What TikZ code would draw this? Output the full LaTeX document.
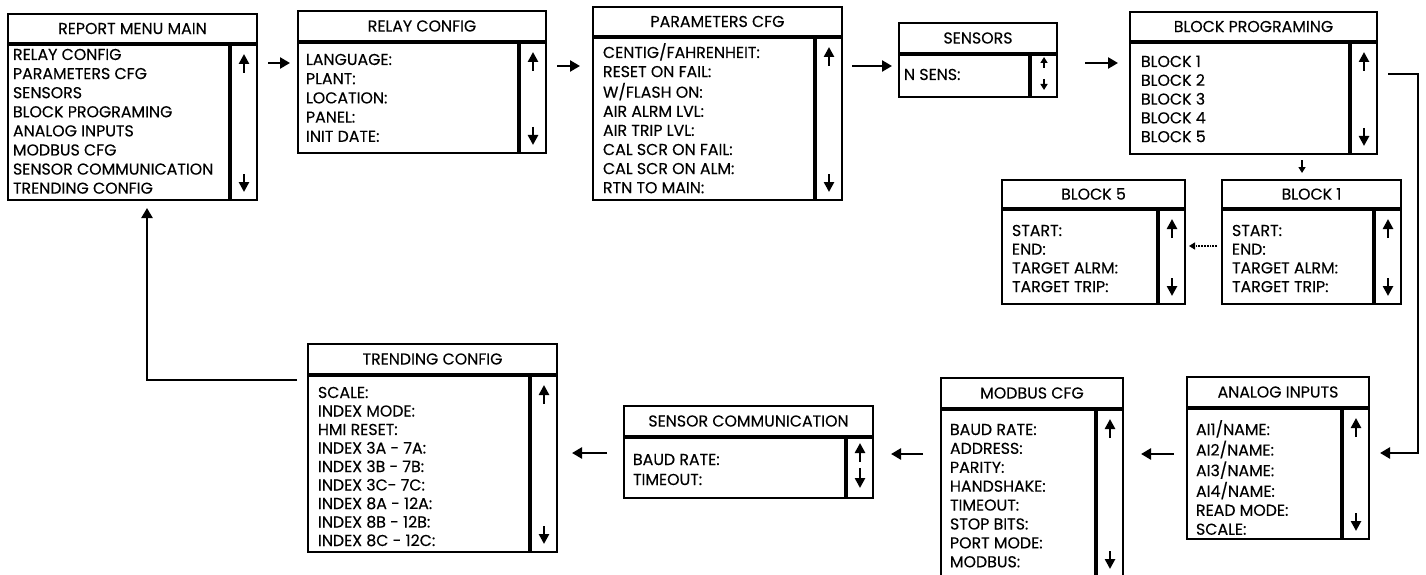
\documentclass[tikz,border=0pt]{standalone}
\usepackage{fontspec}
\setmainfont{Poppins}[FakeBold=0.25]
\usetikzlibrary{arrows.meta}

\tikzset{
  box/.style={draw, line width=2.8pt, inner sep=0pt, outer sep=0pt, anchor=north west},
  items/.style={inner sep=0pt, outer sep=0pt, anchor=base west},
  flow/.style={line width=2.6pt, -{Triangle[width=11pt,length=10pt]}},
  scrollarrow/.style={line width=2.8pt, -{Triangle[width=10pt,length=10pt]}},
  tinyarrow/.style={line width=1.8pt, -{Triangle[width=7pt,length=6pt]}},
  dotflow/.style={line width=1.8pt, densely dotted, -{Triangle[width=7pt,length=6pt]}}
}

\begin{document}
\begin{tikzpicture}[x=1pt,y=-1pt,font=\fontsize{15.8}{19}\selectfont]
\useasboundingbox (0,0) rectangle (1426,575);
\clip (0,0) rectangle (1426,575);
% menu screens: name/left/right/top/title bottom/bottom/text x/first baseline/line step/title/lines
\foreach \n/\xa/\xb/\ya/\ym/\yb/\tx/\ty/\ls/\ttl/\items in {main/8/257/14/43/200/13/60/19.1/{REPORT MENU MAIN}/{RELAY CONFIG\\PARAMETERS CFG\\SENSORS\\BLOCK PROGRAMING\\ANALOG INPUTS\\MODBUS CFG\\SENSOR COMMUNICATION\\TRENDING CONFIG},
relay/298/546/11/41/153/306/65/19.2/{RELAY CONFIG}/{LANGUAGE:\\PLANT:\\LOCATION:\\PANEL:\\INIT DATE:},
params/593/842/7/36/200/603/58/19.1/{PARAMETERS CFG}/{CENTIG/FAHRENHEIT:\\RESET ON FAIL:\\W/FLASH ON:\\AIR ALRM LVL:\\AIR TRIP LVL:\\CAL SCR ON FAIL:\\CAL SCR ON ALM:\\RTN TO MAIN:},
sensors/899/1057/23/53/97/904/80/19/{SENSORS}/{N SENS:},
blockprog/1130/1377/12/41/154/1141/67/18.8/{BLOCK PROGRAMING}/{BLOCK 1\\BLOCK 2\\BLOCK 3\\BLOCK 4\\BLOCK 5},
blockfive/1002/1185/180/208/304/1012/236/18.7/{BLOCK 5}/{START:\\END:\\TARGET ALRM:\\TARGET TRIP:},
blockone/1222/1401/180/208/304/1232/236/18.7/{BLOCK 1}/{START:\\END:\\TARGET ALRM:\\TARGET TRIP:},
analog/1187/1369/377/407/539/1196/435/19/{ANALOG INPUTS}/{AI1/NAME:\\AI2/NAME:\\AI3/NAME:\\AI4/NAME:\\READ MODE:\\SCALE:},
modbus/941/1123/378/408/577/950/435/18.9/{MODBUS CFG}/{BAUD RATE:\\ADDRESS:\\PARITY:\\HANDSHAKE:\\TIMEOUT:\\STOP BITS:\\PORT MODE:\\MODBUS:},
senscomm/624/873/406/436/498/633/465/20/{SENSOR COMMUNICATION}/{BAUD RATE:\\TIMEOUT:},
trending/308/557/344/374/552/318/398/18.5/{TRENDING CONFIG}/{SCALE:\\INDEX MODE:\\HMI RESET:\\INDEX 3A - 7A:\\INDEX 3B - 7B:\\INDEX 3C- 7C:\\INDEX 8A - 12A:\\INDEX 8B - 12B:\\INDEX 8C - 12C:}}{
\node[box, minimum width={(\xb-\xa)*1pt}, minimum height={(\ym-\ya)*1pt}] (\n-t) at (\xa,\ya) {\ttl};
\node[box, minimum width={(\xb-\xa-28)*1pt}, minimum height={(\yb-\ym-2)*1pt}] (\n-b) at (\xa,\ym+2) {};
\node[box, anchor=north east, minimum width=26pt, minimum height={(\yb-\ym-2)*1pt}] (\n-s) at (\xb,\ym+2) {};
\node[items] (\n-l) at (\tx,\ty) {\fontsize{15.8}{\ls pt}\selectfont\begin{tabular}[t]{@{}l@{}}\items\end{tabular}};
}
% scroll arrows
\foreach \n in {main,relay,params,blockprog,blockfive,blockone,analog,modbus,trending}{
\draw[scrollarrow] ([yshift=-28pt]\n-s.north) -- ([yshift=-9pt]\n-s.north);
\draw[scrollarrow] ([yshift=26pt]\n-s.south) -- ([yshift=8pt]\n-s.south);
}
\draw[tinyarrow] ([yshift=-13pt]sensors-s.north) -- ([yshift=-2pt]sensors-s.north);
\draw[tinyarrow] ([yshift=18pt]sensors-s.south) -- ([yshift=7pt]sensors-s.south);
\draw[scrollarrow] ([yshift=-24pt]senscomm-s.north) -- ([yshift=-5pt]senscomm-s.north);
\draw[scrollarrow] ([yshift=30pt]senscomm-s.south) -- ([yshift=10pt]senscomm-s.south);
% flow between screens
\draw[flow, shorten <=11pt, shorten >=8pt] (main-s.east |- 0,63) -- (relay-b.west |- 0,63);
\draw[flow, shorten <=11pt, shorten >=13pt] (relay-s.east |- 0,66) -- (params-b.west |- 0,66);
\draw[flow, shorten <=10pt, shorten >=7pt] (params-s.east |- 0,66) -- (sensors-b.west |- 0,66);
\draw[flow, shorten <=28pt, shorten >=12pt] (sensors-s.east |- 0,63) -- (blockprog-b.west |- 0,63);
\draw[tinyarrow, shorten <=6pt, shorten >=7pt] (blockprog-b.south -| 1302,0) -- (blockone-t.north -| 1302,0);
\draw[dotflow, shorten <=5pt, shorten >=4pt] (blockone-b.west |- 0,246) -- (blockfive-s.east |- 0,246);
\coordinate (turn) at (1418,453);
\draw[flow, shorten <=11pt, shorten >=11pt] (blockprog-s.east |- 0,74) -| (turn) -- (analog-s.east |- turn);
\draw[flow, shorten <=13pt, shorten >=18pt] (analog-b.west |- 0,454) -- (modbus-s.east |- 0,454);
\draw[flow, shorten <=18pt, shorten >=18pt] (modbus-b.west |- 0,454) -- (senscomm-s.east |- 0,454);
\draw[flow, shorten <=17pt, shorten >=15pt] (senscomm-b.west |- 0,453) -- (trending-s.east |- 0,453);
\draw[flow, shorten <=11pt, shorten >=8pt] (trending-t.west |- 0,380) -| (main-b.south -| 147,0);
\end{tikzpicture}
\end{document}
